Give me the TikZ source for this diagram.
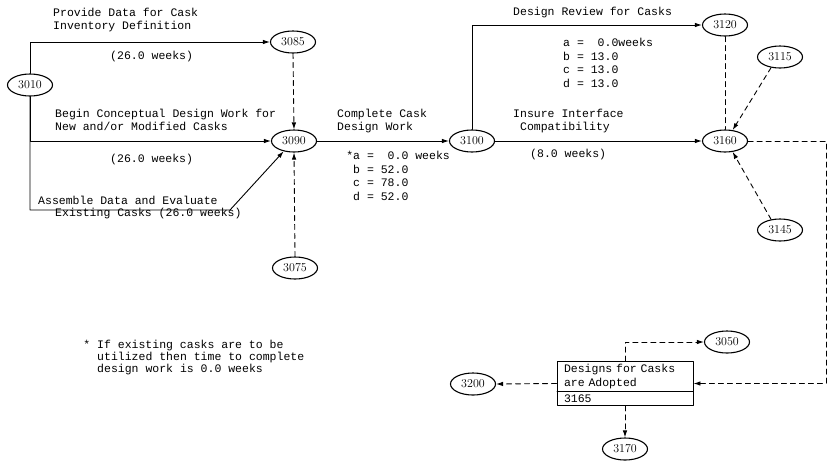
\documentclass[tikz,border=0pt]{standalone}
\usepackage{fontspec}
\setmonofont{Liberation Mono}
\usetikzlibrary{arrows.meta,shapes.geometric,shapes.multipart}

\begin{document}
\begin{tikzpicture}[x=1pt, y=-1pt, line cap=round, line join=round]
\tikzset{
    event/.style={draw, ellipse, line width=1.1pt, minimum width=45pt, minimum height=22pt, inner sep=0pt, font=\fontsize{12}{14}\selectfont},
    activity/.style={draw, line width=0.9pt, -{Latex[length=7pt,width=4.5pt]}},
    dummy/.style={activity, dash pattern=on 5pt off 4pt},
    tag/.style={inner sep=0pt, anchor=west, align=left, font=\fontsize{11.5}{13.5}\selectfont\ttfamily},
    note/.style={tag, font=\fontsize{11.5}{12}\selectfont\ttfamily}
}
\useasboundingbox (0,0) rectangle (829,467);
% events
\node[event] (e3010) at (30,85) {3010};
\node[event] (e3085) at (293,42) {3085};
\node[event] (e3090) at (294,141) {3090};
\node[event] (e3075) at (295,268) {3075};
\node[event] (e3100) at (472,141) {3100};
\node[event] (e3120) at (725,25) {3120};
\node[event] (e3115) at (780,57) {3115};
\node[event] (e3160) at (725,141) {3160};
\node[event] (e3145) at (780,230) {3145};
\node[event] (e3050) at (727,342) {3050};
\node[event] (e3200) at (473,384) {3200};
\node[event] (e3170) at (625,449) {3170};
\node[draw, line width=0.9pt, rectangle split, rectangle split parts=2, text width=122pt, inner xsep=7pt, inner ysep=2.5pt, align=left, font=\fontsize{11.5}{13.5}\selectfont\ttfamily] (adopt) at (625,383.5)
    {Designs for Casks\\are Adopted \nodepart{two} 3165};
\coordinate (bend) at (230,210);
\coordinate (edge) at (826,141);

% activities
\draw[activity] (e3010.north) |- (e3085.west);
\draw[activity] (e3010.south) |- (e3090.west);
\draw[activity] (e3010.south) |- (bend) -- (e3090.-135);
\draw[dummy] (e3085.south) -- (e3090.north);
\draw[dummy] (e3075.north) -- (e3090.south);
\draw[activity] (e3090.east) -- (e3100.west);
\draw[activity] (e3100.north) |- (e3120.west);
\draw[activity] (e3100.east) -- (e3160.west);
\draw[dummy, -] (e3120.south) -- (e3160.north);
\draw[dummy] (e3115.-130) -- (e3160.55);
\draw[dummy] (e3145.130) -- (e3160.-55);
\draw[dummy] (e3160.east) -- (edge) |- (adopt.east);
\draw[dummy] (adopt.west) -- (e3200.east);
\draw[dummy] (adopt.north) |- (e3050.west);
\draw[dummy] (adopt.south) -- (e3170.north);

% labels
\node[tag] (t1) at (53,20) {Provide Data for Cask\\Inventory Definition};
\node[tag] (t1w) at (110,57) {(26.0 weeks)};
\node[tag] (t2) at (55,120) {Begin Conceptual Design Work for\\New and/or Modified Casks};
\node[tag] (t2w) at (110,160) {(26.0 weeks)};
\node[tag] (t3) at (38,200) {Assemble Data and Evaluate};
\node[tag] (t3w) at (55,214) {Existing Casks (26.0 weeks)};
\node[tag] (t4) at (337,121) {Complete Cask\\Design Work};
\node[tag] (t4w) at (353,176) {\llap{*}a =~~0.0 weeks\\b = 52.0\\c = 78.0\\d = 52.0};
\node[tag] (t5) at (513,13) {Design Review for Casks};
\node[tag] (t5w) at (563,63) {a =~~0.0weeks\\b = 13.0\\c = 13.0\\d = 13.0};
\node[tag] (t6) at (513,121) {Insure Interface\\~Compatibility};
\node[tag] (t6w) at (530,155) {(8.0 weeks)};
\node[note] (fn) at (97,358) {\llap{*~}If existing casks are to be\\utilized then time to complete\\design work is 0.0 weeks};
\end{tikzpicture}
\end{document}
